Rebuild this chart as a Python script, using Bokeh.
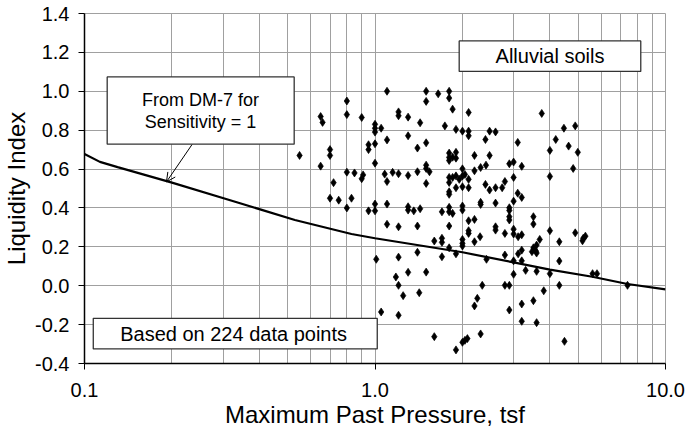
from bokeh.plotting import figure
from bokeh.models import (FixedTicker, PrintfTickFormatter, BoxAnnotation, Label,
                          Arrow, OpenHead, Range1d)
from bokeh.embed import file_html
from bokeh.resources import INLINE

# ---- data -------------------------------------------------------------
pressure = [1.10, 0.80, 0.80, 0.65, 0.66, 0.90, 1.00, 1.00, 1.00, 1.05, 1.10, 0.95, 0.95, 1.00,
            0.70, 0.70, 0.55, 0.65, 1.00, 0.80, 0.85, 0.91, 0.90, 1.08, 1.10, 0.72, 0.70, 0.75,
            0.83, 0.80, 1.00, 1.10, 0.95, 1.00,
            1.50, 1.65, 1.80, 1.80, 1.50, 1.85, 2.10, 1.205, 1.205, 1.30, 1.43, 1.74, 1.90, 2.00,
            2.10, 2.10, 2.48, 1.30, 1.50, 1.40, 2.40, 1.80, 1.90, 1.80, 1.85, 1.80, 1.90, 2.20,
            2.48, 1.50, 1.50, 1.15, 1.205, 1.30, 1.40, 1.54, 2.00, 2.20, 2.31, 2.41, 1.80, 1.85,
            1.90, 1.95, 2.00, 2.04, 2.10, 1.80, 1.50, 1.90, 2.00, 2.10, 1.80, 1.80, 2.40, 2.48,
            1.30, 1.30, 1.36, 1.43, 1.70, 1.80, 1.80, 2.00, 2.00, 2.31, 2.31,
            3.75, 4.47, 4.89, 2.60, 3.10, 4.19, 4.00, 4.64, 4.99, 2.90, 3.00, 3.20, 4.81, 4.00,
            3.00, 2.80, 2.60, 2.74, 3.10, 3.20, 2.60, 3.00, 2.90,
            2.90, 2.90, 2.90, 3.51, 3.51, 2.60, 2.60, 2.80, 3.00, 3.00, 3.11, 3.20, 4.00, 3.69,
            4.89, 5.30, 5.21, 5.18, 4.31, 3.60, 3.51, 3.47, 3.58, 3.60, 3.20, 3.11, 2.80, 2.42,
            3.00, 3.20, 4.31, 3.30, 3.60, 4.00, 3.00, 5.61, 5.81, 2.80, 2.90, 4.31, 3.81, 3.51,
            3.20, 2.90, 3.20, 3.60, 4.49, 7.40,
            1.85, 2.10, 2.20, 1.10, 1.205, 1.40, 1.80, 2.10, 2.10, 2.30, 2.20, 2.00, 2.00, 2.00,
            1.70, 1.70, 1.60, 1.80, 1.40, 1.90, 1.205, 1.70, 1.30, 1.50, 1.18, 1.205, 2.34, 1.42,
            1.25, 2.25, 2.20, 1.205, 1.60, 2.31, 2.00, 2.04, 2.08, 1.90, 1.01, 1.05]

liquidity = [1.00, 0.95, 0.88, 0.87, 0.84, 0.865, 0.83, 0.81, 0.79, 0.81, 0.75, 0.725, 0.70, 0.73,
             0.70, 0.67, 0.67, 0.615, 0.63, 0.584, 0.58, 0.57, 0.55, 0.574, 0.536, 0.53, 0.45, 0.44,
             0.45, 0.40, 0.42, 0.42, 0.385, 0.385,
             1.00, 0.987, 1.00, 0.965, 0.948, 0.908, 0.891, 0.894, 0.874, 0.867, 0.838, 0.822, 0.804, 0.795,
             0.795, 0.771, 0.795, 0.771, 0.735, 0.708, 0.752, 0.682, 0.686, 0.66, 0.661, 0.644, 0.656, 0.67,
             0.67, 0.62, 0.603, 0.583, 0.576, 0.567, 0.586, 0.586, 0.601, 0.591, 0.608, 0.62, 0.557, 0.557,
             0.565, 0.547, 0.564, 0.572, 0.547, 0.531, 0.526, 0.504, 0.509, 0.504, 0.483, 0.47, 0.521, 0.492,
             0.406, 0.389, 0.385, 0.396, 0.38, 0.403, 0.38, 0.41, 0.389, 0.429, 0.418,
             0.886, 0.81, 0.822, 0.791, 0.737, 0.752, 0.696, 0.718, 0.686, 0.627, 0.636, 0.614, 0.603, 0.562,
             0.557, 0.536, 0.504, 0.504, 0.476, 0.454, 0.425, 0.435, 0.401,
             0.387, 0.355, 0.338, 0.355, 0.317, 0.303, 0.286, 0.269, 0.291, 0.266, 0.252, 0.262, 0.283, 0.238,
             0.272, 0.255, 0.244, 0.231, 0.226, 0.209, 0.195, 0.175, 0.178, 0.168, 0.183, 0.164, 0.158, 0.136,
             0.128, 0.128, 0.127, 0.079, 0.074, 0.062, 0.059, 0.062, 0.062, 0.002, 0.002, 0.002, -0.026, -0.077,
             -0.094, -0.125, -0.183, -0.19, -0.286, 0.002,
             0.372, 0.334, 0.341, 0.316, 0.303, 0.307, 0.307, 0.283, 0.269, 0.252, 0.226, 0.238, 0.218, 0.204,
             0.244, 0.223, 0.23, 0.195, 0.172, 0.164, 0.147, 0.149, 0.069, 0.07, 0.045, 0.002, 0.002, -0.036,
             -0.051, -0.065, -0.104, -0.152, -0.262, -0.248, -0.291, -0.281, -0.272, -0.33, 0.136, -0.135]

# DM-7 curve for sensitivity = 1
dm7_pressure = [0.1, 0.113, 0.13, 0.2, 0.33, 0.53, 0.83, 1.0, 2.0, 3.0, 4.0, 5.6, 7.4, 10.0]
dm7_liquidity = [0.677, 0.637, 0.61, 0.53, 0.432, 0.338, 0.266, 0.244, 0.172, 0.12, 0.083, 0.046, 0.009, -0.019]

x_major = [0.1, 1.0, 10.0]
x_minor = [0.2, 0.3, 0.4, 0.5, 0.6, 0.7, 0.8, 0.9, 2, 3, 4, 5, 6, 7, 8, 9]
y_major = [-0.4, -0.2, 0.0, 0.2, 0.4, 0.6, 0.8, 1.0, 1.2, 1.4]

FONT = "Liberation Sans"
GRID = "#a0a0a0"

p = figure(frame_width=581, frame_height=350, x_axis_type="log",
           x_range=Range1d(0.1, 10.0), y_range=Range1d(-0.4, 1.4),
           output_backend="svg", toolbar_location=None)
p.min_border_left = 82
p.min_border_right = 27
p.min_border_top = 13
p.min_border_bottom = 71
p.background_fill_color = "white"
p.border_fill_color = "white"
p.outline_line_color = GRID

p.xaxis.ticker = FixedTicker(ticks=x_major, minor_ticks=x_minor)
p.yaxis.ticker = FixedTicker(ticks=y_major, minor_ticks=[])
p.xaxis.formatter = PrintfTickFormatter(format="%.1f")
p.yaxis.formatter = PrintfTickFormatter(format="%.1f")

for ax in (p.xaxis, p.yaxis):
    ax.axis_line_color = "black"
    ax.axis_line_width = 1.5
    ax.major_tick_line_color = "black"
    ax.major_tick_out = 6
    ax.major_tick_in = 0
    ax.minor_tick_line_color = None
    ax.major_label_text_font = FONT
    ax.major_label_text_font_size = "20px"
    ax.major_label_text_color = "black"
    ax.axis_label_text_font = FONT
    ax.axis_label_text_font_size = "24px"
    ax.axis_label_text_font_style = "normal"
    ax.axis_label_text_color = "black"

p.xaxis.axis_label = "Maximum Past Pressure, tsf"
p.yaxis.axis_label = "Liquidity Index"
p.xaxis.major_label_standoff = 13
p.xaxis.axis_label_standoff = 1
p.yaxis.major_label_standoff = 9
p.yaxis.axis_label_standoff = 2

p.xgrid.grid_line_color = GRID
p.xgrid.minor_grid_line_color = GRID
p.ygrid.grid_line_color = GRID
p.xgrid.grid_line_width = 1
p.ygrid.grid_line_width = 1

p.line(dm7_pressure, dm7_liquidity, line_color="black", line_width=2.2)
p.scatter(pressure, liquidity, marker="diamond", size=8, fill_color="black",
          line_color="black", line_width=0.7)

# annotation boxes
box_style = dict(fill_color="white", fill_alpha=1.0, line_color="#333333",
                 line_width=1.3, line_alpha=1.0, level="overlay")
p.add_layout(BoxAnnotation(left=1.949, right=8.22, bottom=1.102, top=1.259, **box_style))
p.add_layout(BoxAnnotation(left=0.1197, right=0.527, bottom=0.728, top=1.074, **box_style))
p.add_layout(BoxAnnotation(left=0.1072, right=1.018, bottom=-0.325, top=-0.1675, **box_style))

lab = dict(text_font=FONT, text_align="center", text_baseline="middle",
           text_color="black", level="overlay")
p.add_layout(Label(x=4.004, y=1.180, text="Alluvial soils", text_font_size="20px", **lab))
p.add_layout(Label(x=0.2508, y=0.954, text="From DM-7 for", text_font_size="18px", **lab))
p.add_layout(Label(x=0.2508, y=0.841, text="Sensitivity = 1", text_font_size="18px", **lab))
p.add_layout(Label(x=0.326, y=-0.247, text="Based on 224 data points", text_font_size="20px", **lab))

p.add_layout(Arrow(x_start=0.235, y_start=0.728, x_end=0.1915, y_end=0.534,
                   line_color="black", line_width=1,
                   end=OpenHead(size=9, line_color="black", line_width=1)))

open("out.html", "w").write(file_html(p, INLINE))
